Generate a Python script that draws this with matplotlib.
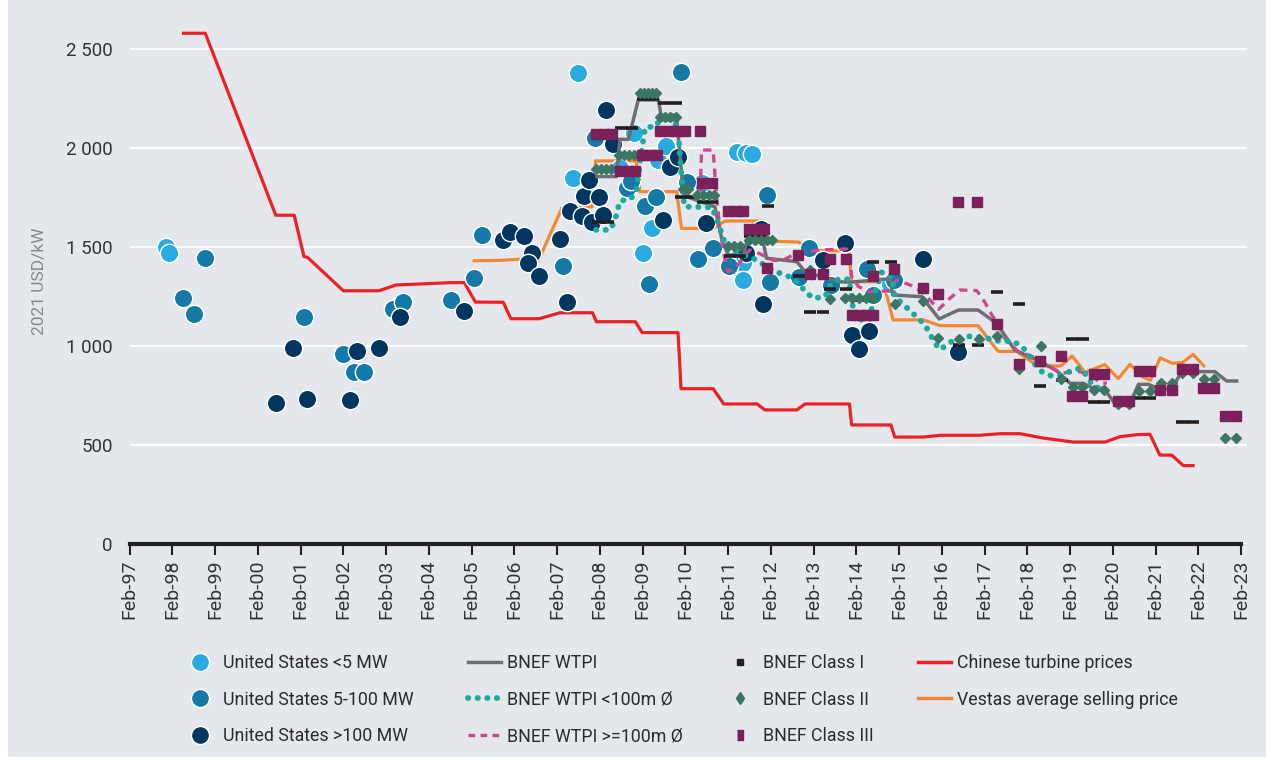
import matplotlib
matplotlib.use('Agg')
import matplotlib.pyplot as plt
from matplotlib.lines import Line2D
from matplotlib.patches import Rectangle

# ---- data (x = years, Feb of year = integer; y = 2021 USD/kW) ----
us_small_x = [1997.84, 1997.93, 2007.48, 2007.38, 2008.47, 2008.81, 2009.37, 2009.56, 2009.22,
              2009.00, 2010.40, 2011.21, 2011.43, 2011.57, 2011.34, 2011.34, 2014.79]
us_small_y = [1501, 1471, 2376, 1846, 1897, 2073, 1939, 2009, 1598,
              1471, 1825, 1981, 1974, 1969, 1418, 1334, 1313]

us_mid_x = [1998.25, 1998.51, 1998.76, 2001.09, 2002.00, 2002.25, 2002.49, 2003.17, 2003.40,
            2004.52, 2005.06, 2005.24, 2007.15, 2007.89, 2008.64, 2008.72, 2009.06, 2009.32,
            2009.16, 2009.90, 2010.05, 2010.30, 2010.65, 2011.03, 2011.90, 2011.98, 2012.66,
            2012.89, 2013.40, 2014.24, 2014.40, 2014.88]
us_mid_y = [1243, 1162, 1444, 1148, 960, 871, 871, 1187, 1222,
            1230, 1343, 1560, 1404, 2051, 1796, 1831, 1709, 1754,
            1315, 2383, 1829, 1439, 1493, 1405, 1760, 1325, 1350,
            1493, 1310, 1387, 1258, 1334]

us_large_x = [2000.42, 2000.83, 2001.16, 2002.16, 2002.33, 2002.83, 2003.33, 2004.83, 2005.74,
              2005.90, 2006.23, 2006.41, 2006.33, 2006.58, 2007.06, 2007.24, 2007.30, 2007.58,
              2007.64, 2007.75, 2007.81, 2007.99, 2008.07, 2008.15, 2008.31, 2009.48, 2009.64,
              2009.84, 2010.48, 2011.42, 2011.77, 2011.82, 2013.21, 2013.73, 2013.89, 2014.06,
              2014.30, 2015.57, 2016.39]
us_large_y = [711, 989, 733, 728, 975, 989, 1148, 1175, 1535,
              1577, 1555, 1468, 1418, 1354, 1538, 1220, 1679, 1654,
              1755, 1836, 1628, 1750, 1660, 2191, 2021, 1638, 1903,
              1955, 1619, 1470, 1591, 1214, 1433, 1519, 1056, 984,
              1078, 1438, 968]

wtpi_x = [2007.93, 2008.39, 2008.47, 2008.67, 2008.90, 2009.37, 2009.45, 2009.80, 2009.92,
          2010.03, 2010.69, 2010.86, 2011.00, 2011.36, 2011.44, 2011.82, 2011.90, 2012.61,
          2012.80, 2013.58, 2013.85, 2014.80, 2014.85, 2015.53, 2015.94, 2016.39, 2016.85,
          2017.28, 2017.71, 2018.22, 2018.69, 2019.00, 2019.31, 2019.54, 2019.79, 2020.05,
          2020.40, 2020.60, 2020.83, 2021.10, 2021.38, 2021.61, 2022.39, 2022.66, 2022.90]
wtpi_y = [1855, 1855, 2043, 2043, 2242, 2242, 2141, 2141, 1855,
          1754, 1703, 1535, 1460, 1460, 1527, 1527, 1443, 1426,
          1375, 1325, 1322, 1340, 1258, 1249, 1137, 1182, 1182,
          1115, 980, 930, 876, 812, 812, 787, 787, 708,
          708, 807, 807, 783, 783, 871, 871, 824, 824]

wtpi_small_x = [2007.91, 2008.24, 2008.35, 2008.47, 2008.72, 2008.86, 2008.98, 2009.06, 2009.33,
                2009.41, 2009.72, 2009.84, 2009.95, 2009.99, 2010.62, 2010.73, 2010.97, 2011.28,
                2011.63, 2012.06, 2012.53, 2012.84, 2012.99, 2013.27, 2013.38, 2013.58, 2013.84,
                2013.89, 2014.01, 2014.32, 2014.40, 2014.59, 2014.83, 2014.90, 2015.26, 2015.61,
                2015.84, 2015.97, 2016.15, 2016.39, 2016.62, 2016.88, 2017.13, 2017.38, 2017.63,
                2017.87, 2018.02, 2018.16, 2018.34, 2018.57, 2018.80, 2019.04, 2019.23, 2019.39,
                2019.52, 2019.76]
wtpi_small_y = [1586, 1586, 1631, 1732, 1742, 1787, 1989, 2102, 2110,
                2157, 2161, 2065, 1746, 1703, 1700, 1645, 1493, 1465,
                1438, 1380, 1342, 1269, 1241, 1249, 1303, 1337, 1337,
                1224, 1132, 1135, 1241, 1372, 1354, 1249, 1178, 1106,
                1014, 982, 1014, 1039, 1049, 1044, 1036, 1023, 1027,
                1000, 960, 913, 871, 849, 854, 876, 888, 852,
                804, 778]

wtpi_large_x = [2010.35, 2010.38, 2010.65, 2010.72, 2010.81, 2010.93, 2011.00, 2011.20, 2011.40,
                2011.51, 2011.75, 2012.06, 2012.29, 2012.60, 2013.15, 2013.77, 2013.85, 2013.89,
                2014.05, 2014.32, 2014.74, 2014.94, 2015.26, 2015.53, 2015.76, 2015.93, 2016.19,
                2016.42, 2016.82, 2017.01, 2017.17, 2017.36, 2017.44, 2017.79, 2018.14, 2018.37,
                2018.76, 2019.23, 2019.54, 2019.70, 2019.86]
wtpi_large_y = [1780, 1989, 1989, 1787, 1586, 1434, 1375, 1400, 1460,
                1485, 1465, 1432, 1434, 1468, 1485, 1490, 1443, 1350,
                1300, 1274, 1278, 1333, 1308, 1274, 1224, 1186, 1241,
                1283, 1280, 1220, 1157, 1098, 1047, 972, 946, 921,
                863, 871, 846, 815, 812]

class1_x = [2007.96, 2008.19, 2008.49, 2008.75, 2009.01, 2009.24, 2009.50, 2009.78, 2009.90,
            2010.13, 2010.41, 2010.62, 2011.04, 2011.28, 2011.51, 2011.75, 2011.93, 2012.66,
            2012.89, 2012.92, 2013.22, 2013.38, 2013.76, 2013.99, 2014.27, 2014.39, 2014.81,
            2016.40, 2016.85, 2017.29, 2017.80, 2018.30, 2018.81, 2019.05, 2019.30, 2019.56,
            2019.79, 2020.61, 2020.87, 2021.62, 2021.88]
class1_y = [1625, 1625, 2099, 2099, 2245, 2245, 2228, 2228, 1750,
            1750, 1728, 1728, 1454, 1454, 1555, 1555, 1707, 1354,
            1354, 1173, 1173, 1288, 1288, 1232, 1232, 1423, 1423,
            1005, 1005, 1273, 1212, 800, 829, 1037, 1037, 716,
            716, 737, 737, 615, 615]

class2_x = [2007.91, 2008.03, 2008.14, 2008.26, 2008.45, 2008.57, 2008.68, 2008.80, 2008.94,
            2009.03, 2009.13, 2009.22, 2009.31, 2009.41, 2009.52, 2009.64, 2009.78, 2009.95,
            2010.06, 2010.27, 2010.41, 2010.55, 2010.67, 2011.00, 2011.14, 2011.28, 2011.49,
            2011.63, 2011.77, 2011.91, 2012.03, 2012.92, 2013.38, 2013.73, 2013.90, 2014.06,
            2014.23, 2014.39, 2014.40, 2014.90, 2015.55, 2015.92, 2016.40, 2016.87, 2017.30,
            2017.80, 2018.31, 2018.80, 2019.06, 2019.29, 2019.56, 2019.79, 2020.13, 2020.38,
            2020.62, 2020.87, 2021.12, 2021.38, 2021.63, 2021.88, 2022.13, 2022.37, 2022.63,
            2022.88]
class2_y = [1892, 1892, 1892, 1892, 1964, 1964, 1964, 1964, 2275,
            2275, 2275, 2275, 2275, 2157, 2157, 2157, 2157, 1792,
            1792, 1762, 1762, 1762, 1762, 1505, 1505, 1505, 1535,
            1535, 1535, 1535, 1535, 1384, 1236, 1240, 1240, 1240,
            1240, 1240, 1367, 1212, 1229, 1043, 1036, 1034, 1052,
            883, 1002, 834, 795, 795, 776, 776, 708, 708,
            775, 775, 812, 812, 863, 863, 833, 833, 535,
            535]

class3_x = [2007.91, 2008.10, 2008.28, 2008.47, 2008.66, 2008.82, 2008.99, 2009.17, 2009.34,
            2009.41, 2009.59, 2009.78, 2009.99, 2010.34, 2010.39, 2010.62, 2011.00, 2011.19,
            2011.35, 2011.49, 2011.68, 2011.84, 2011.91, 2012.64, 2012.92, 2013.22, 2013.38,
            2013.76, 2013.90, 2014.06, 2014.23, 2014.39, 2014.40, 2014.88, 2015.55, 2015.92,
            2016.39, 2016.82, 2017.30, 2017.80, 2018.30, 2018.80, 2019.04, 2019.29, 2019.55,
            2019.80, 2020.13, 2020.38, 2020.62, 2020.87, 2021.11, 2021.38, 2021.63, 2021.88,
            2022.12, 2022.37, 2022.62, 2022.88]
class3_y = [2071, 2071, 2071, 1884, 1884, 1884, 1964, 1964, 1964,
            2086, 2086, 2086, 2086, 2086, 1825, 1825, 1680, 1680,
            1680, 1592, 1592, 1592, 1395, 1460, 1364, 1364, 1437,
            1437, 1157, 1157, 1157, 1157, 1354, 1387, 1294, 1263,
            1725, 1725, 1110, 911, 926, 951, 750, 750, 860,
            860, 724, 724, 875, 875, 778, 778, 883, 883,
            787, 787, 647, 647]

china_x = [1998.26, 1998.77, 2000.42, 2000.85, 2001.08, 2001.16, 2002.00, 2002.83, 2003.23,
           2004.50, 2004.83, 2005.09, 2005.74, 2005.92, 2006.58, 2007.07, 2007.83, 2007.92,
           2008.83, 2008.99, 2009.83, 2009.90, 2010.65, 2010.90, 2011.68, 2011.86, 2012.61,
           2012.80, 2013.84, 2013.89, 2014.81, 2014.90, 2015.57, 2015.96, 2016.89, 2017.36,
           2017.83, 2018.37, 2019.07, 2019.82, 2020.17, 2020.56, 2020.87, 2021.10, 2021.38,
           2021.65, 2021.88]
china_y = [2578, 2578, 1660, 1660, 1451, 1448, 1279, 1279, 1308,
           1320, 1320, 1222, 1221, 1138, 1138, 1168, 1168, 1123,
           1123, 1068, 1068, 785, 785, 708, 708, 678, 678,
           708, 708, 602, 602, 541, 541, 550, 550, 558,
           558, 536, 516, 516, 543, 553, 555, 450, 450,
           397, 397]

vestas_x = [2005.06, 2005.74, 2006.13, 2006.56, 2006.83, 2007.11, 2007.82, 2007.86, 2007.90,
            2008.85, 2008.94, 2009.80, 2009.91, 2010.65, 2010.93, 2011.82, 2011.86, 2012.64,
            2013.07, 2013.77, 2013.83, 2013.89, 2014.63, 2014.86, 2015.57, 2015.96, 2016.85,
            2017.32, 2017.75, 2018.24, 2018.79, 2019.05, 2019.35, 2019.81, 2020.13, 2020.40,
            2020.68, 2020.88, 2021.11, 2021.39, 2021.63, 2021.88, 2022.13]
vestas_y = [1430, 1433, 1438, 1429, 1560, 1695, 1703, 1800, 1934,
            1934, 1779, 1779, 1594, 1593, 1631, 1631, 1530, 1525,
            1481, 1481, 1470, 1325, 1325, 1132, 1132, 1103, 1103,
            973, 973, 900, 900, 950, 867, 907, 836, 908,
            846, 827, 941, 913, 917, 958, 900]

years = list(range(1997, 2024))
tick_labels = [f"Feb-{y % 100:02d}" for y in years]
y_ticks = [0, 500, 1000, 1500, 2000, 2500]

# ---- colours ----
BG = '#e4e8ec'
c_small, c_mid, c_large = '#29abe2', '#1478a8', '#00365f'
c_wtpi, c_teal, c_pink = '#6d6e71', '#1aaa9e', '#d0478d'
c_cl1, c_cl2, c_cl3 = '#231f20', '#3c7563', '#7b2058'
c_red, c_orange = '#ee1f26', '#f58632'

plt.rcParams['font.family'] = ['Roboto', 'DejaVu Sans']

fig = plt.figure(figsize=(12.66, 7.63), dpi=100, facecolor='white')
fig.patches.append(Rectangle((8 / 1266, 6 / 763), 1, 1, transform=fig.transFigure,
                             facecolor=BG, edgecolor='none', zorder=-10))
ax = fig.add_axes([129.6 / 1266, 218.7 / 763, 1117.4 / 1266, 525.3 / 763])
ax.set_facecolor(BG)

# scatter of US projects
dot = dict(s=175, edgecolors='white', linewidths=1.0, zorder=2)
ax.scatter(us_small_x, us_small_y, color=c_small, **dot)
ax.scatter(us_mid_x, us_mid_y, color=c_mid, **dot)
ax.scatter(us_large_x, us_large_y, color=c_large, **dot)

# price lines
ax.plot(china_x, china_y, color=c_red, lw=2.3, zorder=1.5)
ax.plot(vestas_x, vestas_y, color=c_orange, lw=2.3, zorder=1.5)
ax.plot(wtpi_x, wtpi_y, color=c_wtpi, lw=2.5, zorder=3)
ax.plot(wtpi_small_x, wtpi_small_y, color=c_teal, lw=4.2, linestyle=(0, (0.05, 1.6)),
        dash_capstyle='round', zorder=3.2)
ax.plot(wtpi_large_x, wtpi_large_y, color=c_pink, lw=2.4, linestyle=(0, (2.5, 1.8)), zorder=3.1)

# BNEF classes
ax.plot(class1_x, class1_y, ls='none', marker='_', ms=8.5, mew=2.6, color=c_cl1, zorder=4)
ax.plot(class2_x, class2_y, ls='none', marker='D', ms=5.3, color=c_cl2, mec=c_cl2, zorder=4)
ax.plot(class3_x, class3_y, ls='none', marker='s', ms=6.5, color=c_cl3, mec=c_cl3, zorder=4)

# axes styling
ax.set_xlim(1997, 2023.14)
ax.set_ylim(0, 2650)
ax.set_xticks(years)
ax.set_xticklabels(tick_labels, rotation=90, fontsize=14, color='#333333')
ax.set_yticks(y_ticks)
ax.set_yticklabels([f"{v:,}".replace(',', ' ') for v in y_ticks], fontsize=13.5, color='#333333')
ax.tick_params(axis='y', length=0, pad=12)
ax.tick_params(axis='x', length=8, width=1.5, color='#222222', pad=3)
ax.yaxis.grid(True, color='white', lw=1.3)
ax.set_axisbelow(True)
for s in ['top', 'right', 'left']:
    ax.spines[s].set_visible(False)
ax.spines['bottom'].set_linewidth(3)
ax.spines['bottom'].set_color('#222222')
ax.spines['bottom'].set_bounds(1997, 2023)
ax.set_ylabel('2021 USD/kW', fontsize=12.5, color='#888888', labelpad=14)

# legend: four single-column blocks
tall_rect = [(-0.5, -1), (0.5, -1), (0.5, 1), (-0.5, 1)]
legend_cols = [
    ([Line2D([], [], ls='none', marker='o', ms=13, color=c_small, mec='white'),
      Line2D([], [], ls='none', marker='o', ms=13, color=c_mid, mec='white'),
      Line2D([], [], ls='none', marker='o', ms=13, color=c_large, mec='white')],
     ['United States <5 MW', 'United States 5-100 MW', 'United States >100 MW'], 184),
    ([Line2D([], [], color=c_wtpi, lw=2.5),
      Line2D([], [], color=c_teal, lw=4.2, linestyle=(0, (0.05, 1.6)), dash_capstyle='round'),
      Line2D([], [], color=c_pink, lw=2.4, linestyle=(0, (2.0, 1.6)))],
     ['BNEF WTPI', 'BNEF WTPI <100m Ø', 'BNEF WTPI >=100m Ø'], 468),
    ([Line2D([], [], ls='none', marker='s', ms=4, color=c_cl1),
      Line2D([], [], ls='none', marker='d', ms=6, color=c_cl2),
      Line2D([], [], ls='none', marker=tall_rect, ms=7.5, color=c_cl3)],
     ['BNEF Class I', 'BNEF Class II', 'BNEF Class III'], 724),
    ([Line2D([], [], color=c_red, lw=2.5),
      Line2D([], [], color=c_orange, lw=2.5)],
     ['Chinese turbine prices', 'Vestas average selling price'], 918),
]
for hs, ls_, x0 in legend_cols:
    fig.legend(hs, ls_, loc='upper left', bbox_to_anchor=(x0 / 1266, 1 - 654 / 763),
               frameon=False, fontsize=12.75, handlelength=1.85, handletextpad=0.33,
               labelspacing=1.05, borderpad=0, borderaxespad=0, labelcolor='#2b2b2b')

fig.savefig('out.png', dpi=100, facecolor=fig.get_facecolor())
